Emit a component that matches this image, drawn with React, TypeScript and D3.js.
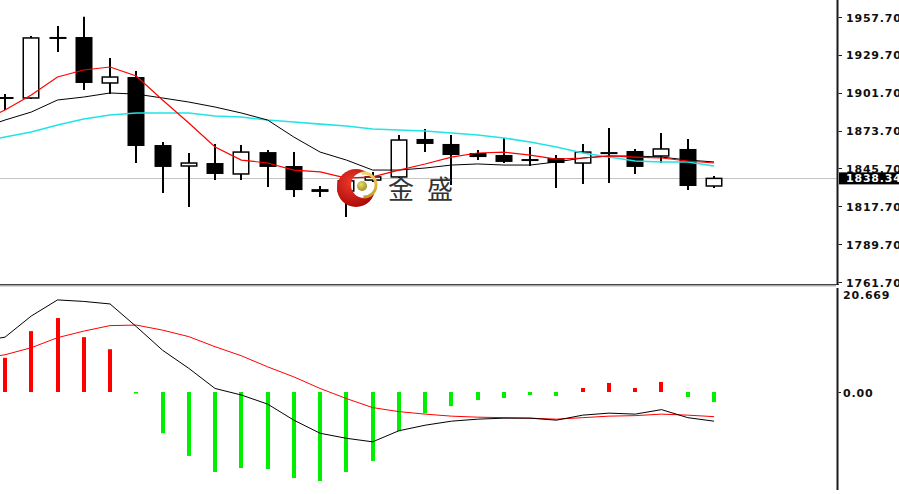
import React from 'react';
import * as d3 from 'd3';

const W = 899;
const H = 494;

// Candles (28 bars)
const open = [1897.8, 1897.8, 1942.2, 1942.9, 1908.9, 1913.3, 1863.0, 1847.5, 1849.7, 1841.6, 1857.8, 1847.5, 1830.4, 1829.0, 1837.1, 1839.4, 1867.5, 1863.8, 1857.1, 1855.6, 1851.9, 1853.4, 1849.7, 1857.8, 1858.6, 1854.9, 1860.1, 1832.7];
const high = [1900.7, 1943.6, 1951.0, 1957.9, 1927.4, 1917.8, 1865.2, 1857.1, 1863.8, 1863.0, 1859.3, 1857.8, 1832.7, 1841.0, 1843.1, 1870.4, 1874.9, 1870.4, 1859.3, 1868.2, 1861.5, 1855.6, 1863.8, 1875.6, 1860.1, 1871.9, 1867.5, 1840.1];
const low = [1888.9, 1897.0, 1931.8, 1903.7, 1900.7, 1849.7, 1827.5, 1817.2, 1837.1, 1837.1, 1831.9, 1824.6, 1824.6, 1809.8, 1835.7, 1838.6, 1857.8, 1833.4, 1851.9, 1849.7, 1847.5, 1831.2, 1834.2, 1834.9, 1841.6, 1849.7, 1829.7, 1831.2];
const close = [1897.8, 1942.2, 1942.2, 1908.9, 1913.3, 1862.3, 1846.8, 1849.7, 1841.6, 1857.8, 1846.8, 1829.7, 1828.3, 1836.5, 1839.4, 1866.7, 1863.8, 1855.6, 1854.1, 1850.5, 1851.9, 1849.7, 1857.8, 1856.3, 1846.8, 1860.1, 1832.7, 1838.34];

// Moving averages (index -1 .. 27)
const maRed = [1880.0, 1888.9, 1900.0, 1913.3, 1918.5, 1920.7, 1914.1, 1896.3, 1879.3, 1861.5, 1851.9, 1849.7, 1844.5, 1843.1, 1838.6, 1839.4, 1844.5, 1849.0, 1854.1, 1857.1, 1857.8, 1855.6, 1852.6, 1853.4, 1854.9, 1854.1, 1853.4, 1851.2, 1849.7];
const maBlack = [1874.9, 1881.5, 1887.4, 1896.3, 1898.5, 1901.5, 1900.7, 1897.8, 1894.8, 1891.1, 1886.7, 1881.5, 1868.9, 1857.8, 1851.9, 1844.5, 1844.5, 1846.0, 1848.2, 1849.0, 1848.2, 1848.2, 1850.5, 1853.4, 1854.9, 1854.9, 1854.1, 1851.9, 1850.5];
const maCyan = [1865.2, 1868.9, 1872.6, 1877.8, 1882.3, 1885.2, 1886.7, 1886.7, 1886.7, 1884.5, 1883.7, 1881.5, 1880.0, 1878.5, 1877.1, 1874.9, 1874.1, 1873.4, 1871.9, 1870.4, 1868.2, 1865.2, 1861.5, 1857.1, 1854.1, 1851.2, 1850.5, 1850.5, 1847.5];

// MACD
const hist = [6.8, 12.1, 14.7, 10.9, 8.5, -0.3, -8.2, -12.7, -15.9, -15.1, -15.3, -17.1, -17.7, -15.9, -13.7, -7.8, -4.2, -2.8, -1.6, -1.2, -0.6, -0.8, 0.8, 1.8, 0.8, 2.0, -1.0, -2.0];
const dif = [10.0, 10.9, 15.1, 18.3, 18.0, 17.5, 13.0, 8.3, 4.7, 0.7, -0.6, -2.4, -5.6, -8.2, -9.2, -9.9, -7.7, -6.6, -5.8, -5.4, -5.2, -5.2, -5.6, -4.6, -4.2, -4.4, -3.5, -5.1, -5.8];
const dea = [6.6, 7.4, 8.8, 10.8, 12.1, 13.2, 13.3, 12.3, 11.0, 9.0, 7.2, 5.0, 3.0, 0.7, -1.3, -3.1, -3.9, -4.4, -4.8, -5.0, -5.1, -5.2, -5.4, -5.1, -4.8, -4.7, -4.4, -4.6, -4.9];

const priceTicks = [1957.7, 1929.7, 1901.7, 1873.7, 1845.7, 1817.7, 1789.7, 1761.7];
const macdTicks = [20.669, 0];
const macdTickLabels = ['20.669', '0.00'];
const lastPrice = 1838.34;
const logoText = '金盛';

const axisFont = { fontFamily: 'DejaVu Sans', fontSize: 11, fontWeight: 700 as const, letterSpacing: 0.8 };

export default function App() {
  const x = d3.scaleLinear().domain([0, 27]).range([5, 714]);
  const y = d3.scaleLinear().domain([1761.7, 1957.7]).range([282, 17]);
  const ym = d3.scaleLinear().domain([0, 20.669]).range([392, 288]);

  const maLine = d3.line<number>().x((_, i) => x(i - 1)).y((d) => y(d));
  const macdLine = d3.line<number>().x((_, i) => x(i - 1)).y((d) => ym(d));

  const bodyW = 17;
  const axisX = 837.5;

  const logoArc = d3.arc()({ innerRadius: 10.5, outerRadius: 13.5, startAngle: -0.2, endAngle: 3.2 } as any) as string;

  return (
    <svg width={W} height={H} style={{ position: 'absolute', left: 0, top: 0, display: 'block', background: '#fff' }}>
      <defs>
        <clipPath id="mainClip"><rect x={0} y={0} width={836} height={284} /></clipPath>
        <clipPath id="subClip"><rect x={0} y={288} width={836} height={206} /></clipPath>
        <radialGradient id="redGrad" cx="40%" cy="35%" r="70%">
          <stop offset="0%" stopColor="#f03a2a" />
          <stop offset="100%" stopColor="#a80808" />
        </radialGradient>
        <radialGradient id="ballGrad" cx="40%" cy="35%" r="70%">
          <stop offset="0%" stopColor="#e8e070" />
          <stop offset="100%" stopColor="#9a8a20" />
        </radialGradient>
        <linearGradient id="ringGrad" x1="0" y1="0" x2="0" y2="1">
          <stop offset="0%" stopColor="#f2d470" />
          <stop offset="100%" stopColor="#c8961c" />
        </linearGradient>
        <mask id="crescentMask">
          <rect x={300} y={140} width={120} height={100} fill="#fff" />
          <circle cx={364} cy={185} r={13} fill="#000" />
        </mask>
      </defs>

      {/* Main panel */}
      <g clipPath="url(#mainClip)">
        <line x1={0} x2={836} y1={Math.round(y(lastPrice)) + 0.5} y2={Math.round(y(lastPrice)) + 0.5} stroke="#c4c4c4" strokeWidth={1} />
        {open.map((o, i) => {
          const c = close[i];
          const xc = Math.round(x(i));
          const top = y(Math.max(o, c));
          const bot = y(Math.min(o, c));
          const bull = c > o;
          const h = bot - top;
          return (
            <g key={i}>
              <line x1={xc} x2={xc} y1={y(high[i])} y2={y(low[i])} stroke="#000" strokeWidth={2} />
              {h < 2 ? (
                <rect x={xc - bodyW / 2} y={top - 1} width={bodyW} height={2} fill="#000" />
              ) : bull ? (
                <rect x={xc - bodyW / 2 + 0.75} y={top} width={bodyW - 1.5} height={h} fill="#fff" stroke="#000" strokeWidth={1.5} />
              ) : (
                <rect x={xc - bodyW / 2} y={top} width={bodyW} height={h} fill="#000" />
              )}
            </g>
          );
        })}
        <path d={maLine(maCyan) || ''} fill="none" stroke="#22e4e4" strokeWidth={1.6} />
        <path d={maLine(maBlack) || ''} fill="none" stroke="#000" strokeWidth={1} />
        <path d={maLine(maRed) || ''} fill="none" stroke="#ff0000" strokeWidth={1.2} />

        {/* logo watermark */}
        <g>
          <circle cx={356} cy={188} r={19} fill="url(#redGrad)" mask="url(#crescentMask)" />
          <path d={logoArc} transform="translate(364,185)" fill="url(#ringGrad)" />
          <circle cx={362} cy={186} r={5} fill="url(#ballGrad)" />
          <text x={388} y={199} fontFamily="Noto Sans CJK SC" fontSize={26} fill="#333" letterSpacing={13}>{logoText}</text>
        </g>
      </g>

      {/* separator */}
      <line x1={0} x2={839} y1={284.5} y2={284.5} stroke="#444" strokeWidth={1} />
      <line x1={0} x2={836} y1={285.5} y2={285.5} stroke="#a8a8a8" strokeWidth={1} />
      <line x1={0} x2={836} y1={286.5} y2={286.5} stroke="#d8d8d8" strokeWidth={1} />

      {/* main axis */}
      <line x1={axisX} x2={axisX} y1={0} y2={285} stroke="#1a1a1a" strokeWidth={2} />
      {priceTicks.map((t) => (
        <g key={t}>
          <line x1={838.5} x2={842} y1={Math.round(y(t)) + 0.5} y2={Math.round(y(t)) + 0.5} stroke="#1a1a1a" strokeWidth={1} />
          <text x={846} y={y(t) + 1} dominantBaseline="central" fill="#101010" {...axisFont}>{t.toFixed(2)}</text>
        </g>
      ))}
      <rect x={839} y={y(lastPrice) - 6} width={60} height={12} fill="#000" />
      <text x={846} y={y(lastPrice) + 0.5} dominantBaseline="central" fill="#fff" {...axisFont}>{lastPrice.toFixed(2)}</text>

      {/* MACD panel */}
      <g clipPath="url(#subClip)">
        {hist.map((v, i) => {
          const xc = Math.round(x(i));
          const y0 = ym(0);
          const y1 = ym(v);
          return (
            <rect key={i} x={xc - 2} y={Math.min(y0, y1)} width={4} height={Math.max(1.5, Math.abs(y1 - y0))} fill={v >= 0 ? '#ff0000' : '#00ee00'} />
          );
        })}
        <path d={macdLine(dea) || ''} fill="none" stroke="#ff0000" strokeWidth={1} />
        <path d={macdLine(dif) || ''} fill="none" stroke="#000" strokeWidth={1} />
      </g>
      <line x1={axisX} x2={axisX} y1={288} y2={490} stroke="#1a1a1a" strokeWidth={2} />
      <line x1={838.5} x2={841} y1={Math.round(ym(0)) + 0.5} y2={Math.round(ym(0)) + 0.5} stroke="#1a1a1a" strokeWidth={1} />
      {macdTicks.map((t, i) => (
        <text key={t} x={843} y={i === 0 ? 295 : ym(t) + 1} dominantBaseline="central" fill="#101010" {...axisFont}>{macdTickLabels[i]}</text>
      ))}
    </svg>
  );
}
